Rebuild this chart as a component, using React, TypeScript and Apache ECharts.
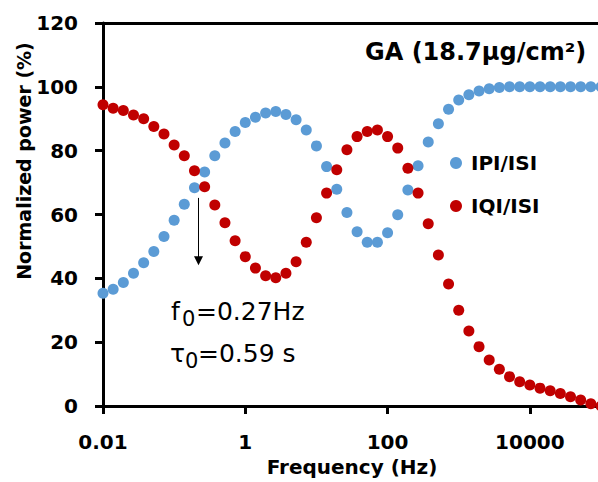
import React, { useEffect, useRef } from 'react';
import * as echarts from 'echarts';

// Frequencies (Hz), 7 points per decade
const freqHz = [
  0.01, 0.01389, 0.01931, 0.02683, 0.03728, 0.05179, 0.07197,
  0.1, 0.1389, 0.1931, 0.2683, 0.3728, 0.5179, 0.7197,
  1, 1.389, 1.931, 2.683, 3.728, 5.179, 7.197,
  10, 13.89, 19.31, 26.83, 37.28, 51.79, 71.97,
  100, 138.9, 193.1, 268.3, 372.8, 517.9, 719.7,
  1000, 1389, 1931, 2683, 3728, 5179, 7197,
  10000, 13895, 19307, 26827, 37276, 51795, 71969,
  100000,
];

// IPI/ISI (%)
const ipiIsi = [
  35.3, 36.6, 38.7, 41.6, 44.9, 48.4, 53.1, 58.2, 63.2, 68.4,
  73.3, 78.4, 82.4, 86.0, 88.8, 90.5, 91.8, 92.3, 91.3, 89.7,
  86.5, 81.5, 75.0, 67.9, 60.6, 54.6, 51.3, 51.3, 54.3, 59.9,
  67.7, 75.3, 82.7, 88.4, 93.0, 95.9, 97.5, 98.7, 99.4, 99.8,
  100, 100, 100, 100, 100, 100, 100, 100, 100, 100,
];

// IQI/ISI (%)
const iqiIsi = [
  94.4, 93.3, 92.6, 91.2, 90.0, 87.6, 85.2, 81.8, 78.4, 73.7,
  68.7, 63.0, 57.4, 51.8, 46.8, 43.2, 40.8, 40.2, 41.6, 45.2,
  51.3, 59.0, 66.7, 74.0, 80.3, 84.4, 86.0, 86.5, 84.4, 80.8,
  74.5, 66.7, 57.1, 47.3, 38.2, 30.0, 23.5, 18.6, 14.4, 11.5,
  9.2, 7.6, 6.6, 5.6, 4.8, 3.9, 2.9, 1.9, 0.7, 0.0,
];

const seriesNames = ['IPI/ISI', 'IQI/ISI'];
const xTickLabels = ['0.01', '1', '100', '10000'];
const arrowFreq = 0.22;
const arrowFrom = 65.2;
const arrowTo = 45.5;

export default function App() {
  const ref = useRef<HTMLDivElement>(null);

  useEffect(() => {
    const chart = echarts.init(ref.current as HTMLDivElement, null, { renderer: 'svg' });
    const font = 'DejaVu Sans';
    const bold = { fontFamily: font, fontWeight: 'bold' as const, color: '#000' };
    const axisLine = { show: true, onZero: false, lineStyle: { color: '#000', width: 3 } };
    const xLabel = (v: number) => {
      const e = Math.round(Math.log10(v) / 2);
      return xTickLabels[e + 1] ?? '';
    };
    const txt = (x: number, y: number, text: string, size: number) => ({
      type: 'text',
      x,
      y,
      silent: true,
      style: {
        text,
        fontSize: size,
        fontFamily: font,
        fill: '#000',
        align: 'left',
        verticalAlign: 'middle',
        textAlign: 'left',
        textVerticalAlign: 'middle',
      },
    });

    chart.setOption({
      animation: false,
      backgroundColor: '#fff',
      title: {
        text: 'GA (18.7μg/cm²)',
        left: 365,
        top: 38,
        padding: 0,
        textStyle: { ...bold, fontSize: 24, lineHeight: 28 },
      },
      legend: {
        orient: 'vertical',
        left: 450,
        top: 153,
        padding: 0,
        itemWidth: 20,
        itemHeight: 12,
        itemGap: 23,
        icon: 'circle',
        textStyle: { ...bold, fontSize: 20 },
        data: seriesNames,
      },
      grid: {
        left: 103,
        top: 23,
        width: 498,
        height: 383,
        containLabel: false,
        outerBoundsMode: 'none',
      },
      xAxis: [
        {
          type: 'log',
          logBase: 100,
          min: 0.01,
          max: 100000,
          name: 'Frequency (Hz)',
          nameLocation: 'middle',
          nameGap: 48,
          nameTextStyle: { ...bold, fontSize: 20 },
          axisLine,
          axisTick: { show: true, length: 8, lineStyle: { color: '#000', width: 3 } },
          axisLabel: {
            ...bold,
            fontSize: 20,
            margin: 26,
            showMaxLabel: false,
            formatter: xLabel,
          },
          splitLine: { show: false },
          minorTick: { show: false },
        },
        {
          type: 'log',
          logBase: 100,
          min: 0.01,
          max: 100000,
          position: 'top',
          axisLine,
          axisTick: { show: false },
          axisLabel: { show: false },
          splitLine: { show: false },
        },
      ],
      yAxis: {
        type: 'value',
        min: 0,
        max: 120,
        interval: 20,
        axisLine,
        axisTick: { show: true, length: 8, lineStyle: { color: '#000', width: 3 } },
        axisLabel: { ...bold, fontSize: 20, margin: 25 },
        splitLine: { show: false },
      },
      graphic: [
        {
          type: 'text',
          x: 24,
          y: 161,
          rotation: Math.PI / 2,
          silent: true,
          style: {
            text: 'Normalized power (%)',
            fontSize: 19,
            fontWeight: 'bold',
            fontFamily: font,
            fill: '#000',
            align: 'center',
            verticalAlign: 'middle',
            textAlign: 'center',
            textVerticalAlign: 'middle',
          },
        },
        txt(171, 311, 'f', 25),
        txt(182, 319, '0', 21),
        txt(196, 311, '=0.27Hz', 25),
        txt(170, 353, 'τ', 25),
        txt(185, 361, '0', 21),
        txt(198, 353, '=0.59 s', 25),
      ],
      series: [
        {
          name: seriesNames[0],
          type: 'scatter',
          symbol: 'circle',
          symbolSize: 11,
          itemStyle: { color: '#5B9BD5', opacity: 1 },
          data: freqHz.map((f, i) => [f, ipiIsi[i]]),
        },
        {
          name: seriesNames[1],
          type: 'scatter',
          symbol: 'circle',
          symbolSize: 11,
          itemStyle: { color: '#C00000', opacity: 1 },
          data: freqHz.map((f, i) => [f, iqiIsi[i]]),
          markLine: {
            silent: true,
            symbol: ['none', 'triangle'],
            symbolSize: [9, 9],
            label: { show: false },
            lineStyle: { color: '#000', width: 1, type: 'solid', opacity: 1 },
            emphasis: { disabled: true },
            data: [[{ coord: [arrowFreq, arrowFrom] }, { coord: [arrowFreq, arrowTo] }]],
          },
        },
      ],
    });

    return () => chart.dispose();
  }, []);

  return (
    <div
      ref={ref}
      style={{
        position: 'absolute',
        left: 0,
        top: 0,
        width: 598,
        height: 482,
        overflow: 'hidden',
        background: '#fff',
      }}
    />
  );
}
